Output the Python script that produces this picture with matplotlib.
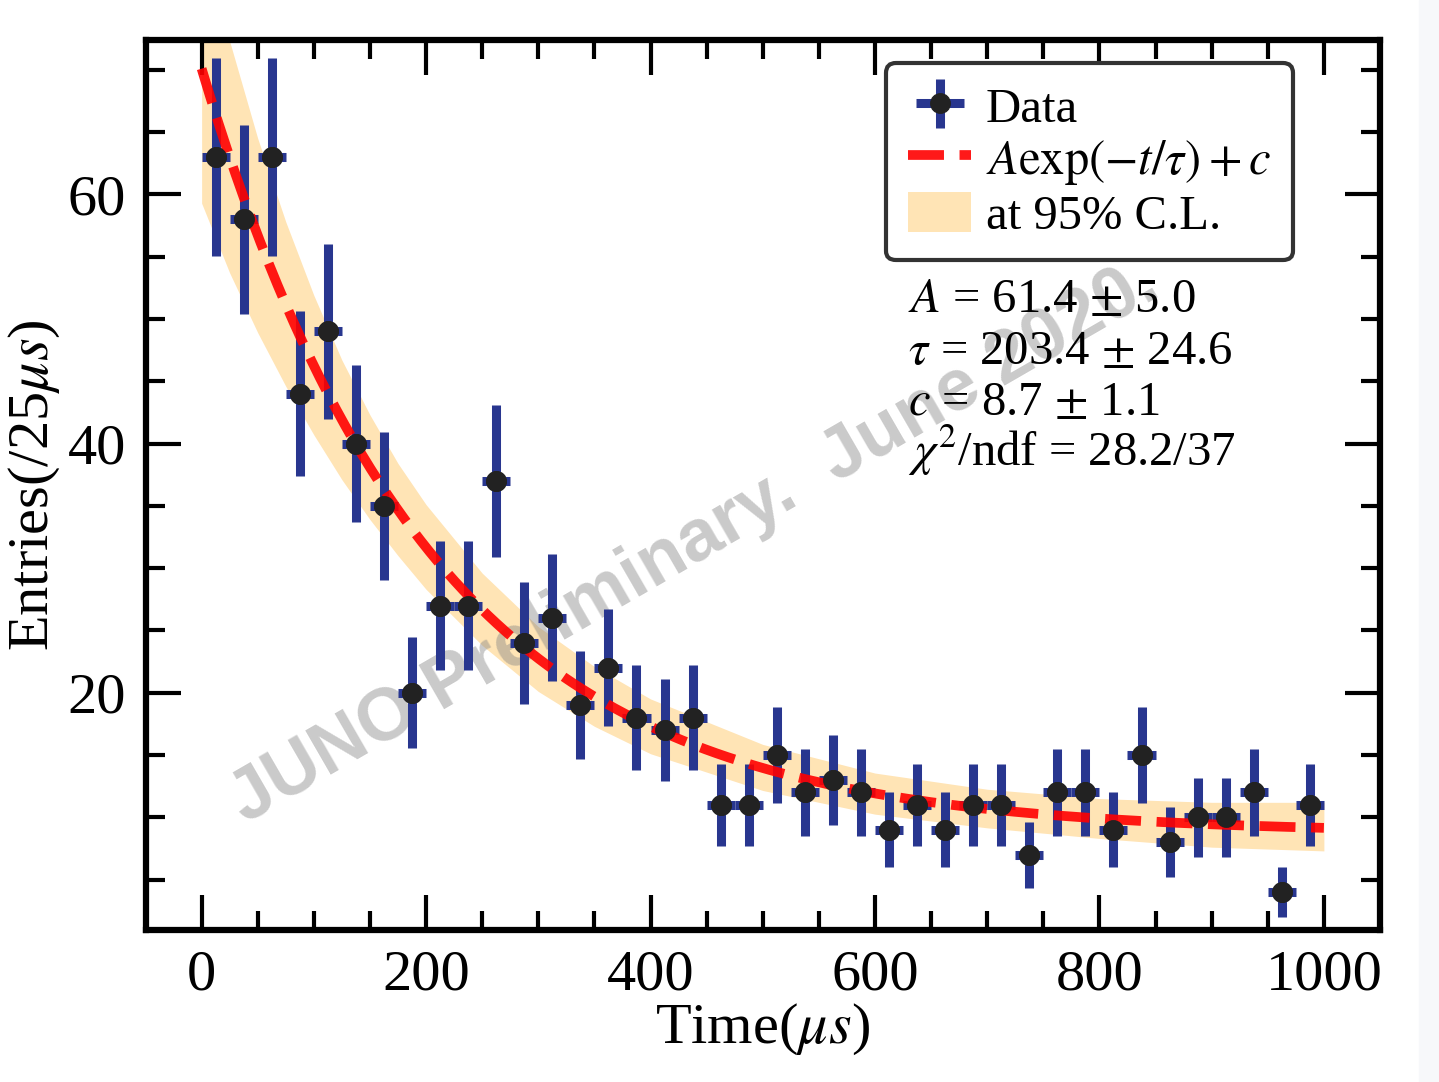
import numpy as np
import matplotlib
matplotlib.use("Agg")
import matplotlib.pyplot as plt
from matplotlib.patches import Patch, Rectangle

plt.rcParams['font.family'] = ['Liberation Serif', 'DejaVu Serif']
plt.rcParams['mathtext.fontset'] = 'stix'

# ---- data ----
bin_centers = [12.5, 37.5, 62.5, 87.5, 112.5, 137.5, 162.5, 187.5, 212.5, 237.5,
               262.5, 287.5, 312.5, 337.5, 362.5, 387.5, 412.5, 437.5, 462.5, 487.5,
               512.5, 537.5, 562.5, 587.5, 612.5, 637.5, 662.5, 687.5, 712.5, 737.5,
               762.5, 787.5, 812.5, 837.5, 862.5, 887.5, 912.5, 937.5, 962.5, 987.5]
counts = [63, 58, 63, 44, 49, 40, 35, 20, 27, 27,
          37, 24, 26, 19, 22, 18, 17, 18, 11, 11,
          15, 12, 13, 12, 9, 11, 9, 11, 11, 7,
          12, 12, 9, 15, 8, 10, 10, 12, 4, 11]
bin_half_width = 12.5

# fit parameters shown on the chart
fit_A, fit_A_err = 61.4, 5.0
fit_tau, fit_tau_err = 203.4, 24.6
fit_c, fit_c_err = 8.7, 1.1
chi2, ndf = 28.2, 37

# 95% C.L. band edges
band_t = [0, 25, 50, 75, 100, 125, 150, 175, 200, 250, 300, 350, 400,
          500, 600, 700, 800, 900, 1000]
band_lower = [59.3, 53.7, 48.9, 44.6, 40.7, 37.1, 33.9, 31.0, 28.3, 23.8, 20.1,
              17.3, 15.1, 12.15, 10.25, 9.15, 8.3, 7.6, 7.3]
band_upper = [80.9, 72.3, 64.5, 57.8, 51.9, 46.7, 42.3, 38.4, 35.1, 29.6, 25.3,
              22.1, 19.5, 15.85, 13.55, 12.25, 11.5, 11.2, 11.2]

x_ticks = [0, 200, 400, 600, 800, 1000]
y_ticks = [20, 40, 60]

# ---- figure ----
fig = plt.figure(figsize=(14.39, 10.82), dpi=100)
fig.patches.append(Rectangle((1419 / 1439, 0), 20 / 1439, 1, transform=fig.transFigure,
                             color='#f7f8fa', zorder=0))
ax = fig.add_axes([145.5 / 1439, 1 - 930 / 1082, (1380 - 145.5) / 1439, (930 - 40) / 1082])

x = np.asarray(bin_centers, dtype=float)
y = np.asarray(counts, dtype=float)
yerr = np.sqrt(y)

band = ax.fill_between(band_t, band_lower, band_upper, color='#FFE4B5', lw=0, zorder=1)

ax.text(439, 32.1, 'JUNO Preliminary.  June 2020.', rotation=30, rotation_mode='anchor',
        ha='center', va='center', fontsize=53, fontweight='bold',
        family='Liberation Sans', color='grey', alpha=0.42, zorder=1.5)

eb = ax.errorbar(x, y, yerr=yerr, xerr=bin_half_width, fmt='o', color='#222222',
                 markersize=14, ecolor='#28368f', elinewidth=6.5, capsize=0, zorder=2)

t = np.linspace(0, 1000, 400)
fit_curve = fit_A * np.exp(-t / fit_tau) + fit_c
line, = ax.plot(t, fit_curve, ls='--', color='red', alpha=0.9, lw=7, zorder=3)
ax.plot(x, y, 'o', color='#222222', markersize=14, zorder=4)

ax.set_xlim(-50, 1050)
ax.set_ylim(0.95, 72.4)
ax.set_xticks(x_ticks)
ax.set_yticks(y_ticks)
ax.xaxis.set_minor_locator(matplotlib.ticker.MultipleLocator(50))
ax.yaxis.set_minor_locator(matplotlib.ticker.MultipleLocator(5))
ax.tick_params(which='both', direction='in', top=True, right=True, width=3)
ax.tick_params(which='major', length=25, labelsize=42, pad=14)
ax.tick_params(which='minor', length=14)
for s in ax.spines.values():
    s.set_linewidth(4.5)

ax.set_xlabel(r'Time($\mu s$)', fontsize=42, labelpad=0)
ax.set_ylabel(r'Entries(/25$\mu s$)', fontsize=42, labelpad=4)

leg = ax.legend([eb, line, Patch(facecolor='#FFE4B5', edgecolor='none')],
                ['Data', r'$A\mathrm{exp}(-t/\tau)+c$', 'at 95% C.L.'],
                loc='upper right', bbox_to_anchor=(0.9295, 0.974), borderaxespad=0,
                fontsize=35, frameon=True, fancybox=True, edgecolor='#333333',
                framealpha=1, handlelength=1.3, handletextpad=0.3, labelspacing=0.1,
                borderpad=0.45, handleheight=0.9)
leg.get_frame().set_linewidth(3)

param_lines = [rf'$A$ = {fit_A} $\pm$ {fit_A_err}',
               rf'$\tau$ = {fit_tau} $\pm$ {fit_tau_err}',
               rf'$c$ = {fit_c} $\pm$ {fit_c_err}',
               rf'$\chi^2$/ndf = {chi2}/{ndf}']
for i, s in enumerate(param_lines):
    ax.text(0.6177, 0.694 - i * 0.0575, s, transform=ax.transAxes, fontsize=35,
            ha='left', va='baseline')

fig.savefig('out.png', dpi=100)
